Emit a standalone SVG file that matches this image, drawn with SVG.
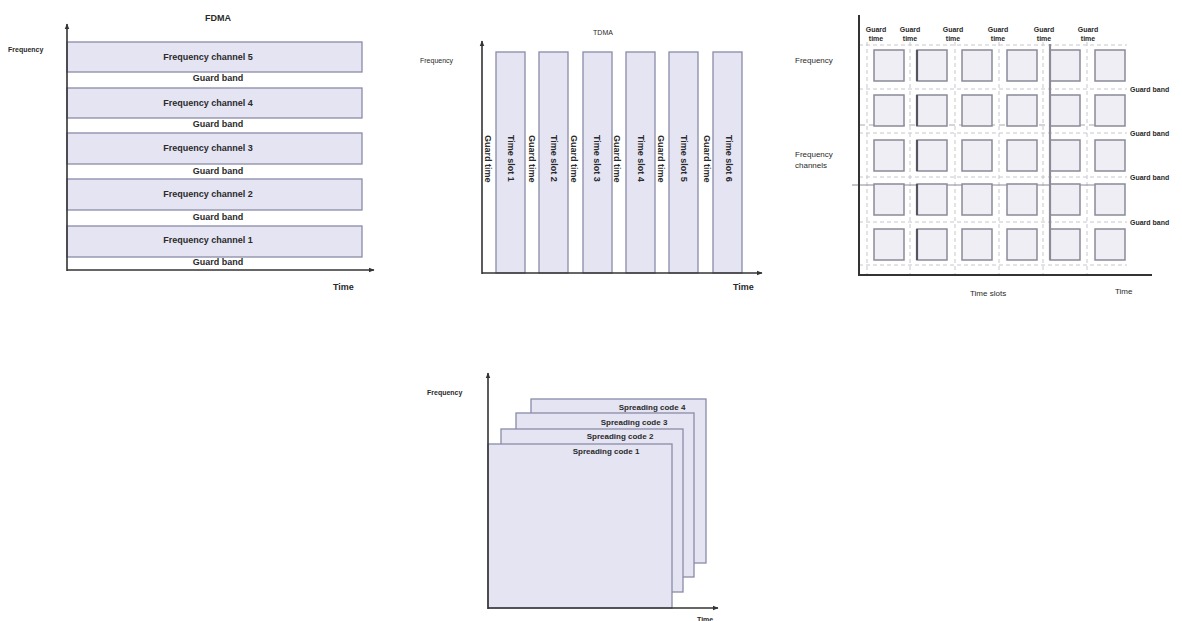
<svg xmlns="http://www.w3.org/2000/svg" width="1182" height="621" viewBox="0 0 1182 621">
<defs>
<marker id="ah" viewBox="0 0 10 10" refX="9" refY="5" markerWidth="6" markerHeight="6" orient="auto" markerUnits="userSpaceOnUse"><path d="M0,1 L10,5 L0,9 z" fill="#333"/></marker>
<style>
text{font-family:"Liberation Sans",Arial,sans-serif;fill:#2a2a2a}
.b{font-weight:bold}
.ax{stroke:#333;stroke-width:1.6;fill:none}
.ch{fill:#e4e4f2;stroke:#8a8aa8;stroke-width:1.3}
.box{fill:#eeeef4;stroke:#8a8a98;stroke-width:1.5}
.dash{stroke:#c6c6d0;stroke-width:1;stroke-dasharray:4 3;fill:none}
.t9{font-size:9px}
.t8{font-size:8px}
.t7{font-size:7px}
</style>
</defs>
<rect width="1182" height="621" fill="#ffffff"/>

<!-- FDMA -->
<g id="fdma">
<text x="218" y="21" class="b t9" text-anchor="middle">FDMA</text>
<text x="8" y="52" class="b t7">Frequency</text>
<rect class="ch" x="67" y="42" width="295" height="30"/>
<rect class="ch" x="67" y="88" width="295" height="30"/>
<rect class="ch" x="67" y="133" width="295" height="31"/>
<rect class="ch" x="67" y="179" width="295" height="31"/>
<rect class="ch" x="67" y="226" width="295" height="31"/>
<g class="b t9" text-anchor="middle">
<text x="208" y="60">Frequency channel 5</text>
<text x="208" y="106">Frequency channel 4</text>
<text x="208" y="151">Frequency channel 3</text>
<text x="208" y="197">Frequency channel 2</text>
<text x="208" y="243">Frequency channel 1</text>
<text x="218" y="81">Guard band</text>
<text x="218" y="127">Guard band</text>
<text x="218" y="174">Guard band</text>
<text x="218" y="220">Guard band</text>
<text x="218" y="265">Guard band</text>
</g>
<text x="333" y="290" class="b t9">Time</text>
</g>

<!-- TDMA -->
<g id="tdma">
<text x="603" y="35" class="t7" text-anchor="middle" fill="#555">TDMA</text>
<text x="420" y="63" class="t7" fill="#555">Frequency</text>
<rect class="ch" x="496" y="52" width="29" height="221"/>
<rect class="ch" x="539" y="52" width="29" height="221"/>
<rect class="ch" x="583" y="52" width="29" height="221"/>
<rect class="ch" x="626" y="52" width="29" height="221"/>
<rect class="ch" x="669" y="52" width="29" height="221"/>
<rect class="ch" x="713" y="52" width="29" height="221"/>
<g class="b t9">
<text transform="translate(485,135) rotate(90)">Guard time</text>
<text transform="translate(508,135) rotate(90)">Time slot 1</text>
<text transform="translate(529,135) rotate(90)">Guard time</text>
<text transform="translate(551,135) rotate(90)">Time slot 2</text>
<text transform="translate(571,135) rotate(90)">Guard time</text>
<text transform="translate(594,135) rotate(90)">Time slot 3</text>
<text transform="translate(614,135) rotate(90)">Guard time</text>
<text transform="translate(638,135) rotate(90)">Time slot 4</text>
<text transform="translate(658,135) rotate(90)">Guard time</text>
<text transform="translate(681,135) rotate(90)">Time slot 5</text>
<text transform="translate(704,135) rotate(90)">Guard time</text>
<text transform="translate(726,135) rotate(90)">Time slot 6</text>
</g>
<text x="733" y="290" class="b t9">Time</text>
</g>

<!-- FDMA/TDMA grid -->
<g id="grid">
<g class="dash">
<line x1="859" y1="89" x2="1127" y2="89"/>
<line x1="859" y1="133" x2="1127" y2="133"/>
<line x1="859" y1="177" x2="1127" y2="177"/>
<line x1="859" y1="222" x2="1127" y2="222"/>
<line x1="859" y1="265" x2="1127" y2="265"/>
<line x1="859" y1="45" x2="1127" y2="45"/>
<line x1="867" y1="42" x2="867" y2="275"/>
<line x1="910" y1="42" x2="910" y2="275"/>
<line x1="955" y1="42" x2="955" y2="275"/>
<line x1="999" y1="42" x2="999" y2="275"/>
<line x1="1043" y1="42" x2="1043" y2="275"/>
<line x1="1087" y1="42" x2="1087" y2="275"/>
</g>
<line x1="859" y1="125" x2="1127" y2="125" stroke="#a8a8b4" stroke-width="1" stroke-dasharray="6 4"/>
<line x1="852" y1="185" x2="1125" y2="185" stroke="#8a8a98" stroke-width="1"/>
<g>
<rect class="box" x="874" y="50" width="30" height="31"/><rect class="box" x="917" y="50" width="30" height="31"/><rect class="box" x="962" y="50" width="30" height="31"/><rect class="box" x="1007" y="50" width="30" height="31"/><rect class="box" x="1050" y="50" width="30" height="31"/><rect class="box" x="1095" y="50" width="30" height="31"/>
<rect class="box" x="874" y="95" width="30" height="31"/><rect class="box" x="917" y="95" width="30" height="31"/><rect class="box" x="962" y="95" width="30" height="31"/><rect class="box" x="1007" y="95" width="30" height="31"/><rect class="box" x="1050" y="95" width="30" height="31"/><rect class="box" x="1095" y="95" width="30" height="31"/>
<rect class="box" x="874" y="140" width="30" height="31"/><rect class="box" x="917" y="140" width="30" height="31"/><rect class="box" x="962" y="140" width="30" height="31"/><rect class="box" x="1007" y="140" width="30" height="31"/><rect class="box" x="1050" y="140" width="30" height="31"/><rect class="box" x="1095" y="140" width="30" height="31"/>
<rect class="box" x="874" y="184" width="30" height="31"/><rect class="box" x="917" y="184" width="30" height="31"/><rect class="box" x="962" y="184" width="30" height="31"/><rect class="box" x="1007" y="184" width="30" height="31"/><rect class="box" x="1050" y="184" width="30" height="31"/><rect class="box" x="1095" y="184" width="30" height="31"/>
<rect class="box" x="874" y="229" width="30" height="31"/><rect class="box" x="917" y="229" width="30" height="31"/><rect class="box" x="962" y="229" width="30" height="31"/><rect class="box" x="1007" y="229" width="30" height="31"/><rect class="box" x="1050" y="229" width="30" height="31"/><rect class="box" x="1095" y="229" width="30" height="31"/>
</g>
<g stroke="#55555f" stroke-width="2.2">
<line x1="917" y1="50" x2="917" y2="81"/><line x1="917" y1="95" x2="917" y2="126"/><line x1="917" y1="140" x2="917" y2="171"/><line x1="917" y1="184" x2="917" y2="215"/><line x1="917" y1="229" x2="917" y2="260"/>
<line x1="1050" y1="44" x2="1050" y2="260" stroke="#8a8a98"/>
</g>
<line x1="859" y1="15" x2="859" y2="276" stroke="#333" stroke-width="2"/>
<line x1="858" y1="275" x2="1152" y2="275" stroke="#333" stroke-width="2"/>
<g class="b t7" text-anchor="middle">
<text x="876" y="32">Guard</text><text x="876" y="41">time</text>
<text x="910" y="32">Guard</text><text x="910" y="41">time</text>
<text x="953" y="32">Guard</text><text x="953" y="41">time</text>
<text x="998" y="32">Guard</text><text x="998" y="41">time</text>
<text x="1044" y="32">Guard</text><text x="1044" y="41">time</text>
<text x="1088" y="32">Guard</text><text x="1088" y="41">time</text>
</g>
<g class="b t7">
<text x="1130" y="92">Guard band</text>
<text x="1130" y="136">Guard band</text>
<text x="1130" y="180">Guard band</text>
<text x="1130" y="225">Guard band</text>
</g>
<text x="795" y="63" class="t8">Frequency</text>
<text x="795" y="157" class="t8">Frequency</text>
<text x="795" y="168" class="t8">channels</text>
<text x="970" y="296" class="t8">Time slots</text>
<text x="1115" y="294" class="t8">Time</text>
</g>

<!-- CDMA -->
<g id="cdma">
<rect class="ch" x="531" y="399" width="175" height="164"/>
<rect class="ch" x="516" y="413" width="178" height="164"/>
<rect class="ch" x="501" y="429" width="182" height="163"/>
<rect class="ch" x="488" y="444" width="184" height="164"/>
<g class="b t8" text-anchor="middle">
<text x="652" y="410">Spreading code 4</text>
<text x="634" y="425">Spreading code 3</text>
<text x="620" y="439">Spreading code 2</text>
<text x="606" y="454">Spreading code 1</text>
</g>
<text x="427" y="395" class="b t7">Frequency</text>
<text x="697" y="622" class="b t7">Time</text>
</g>

<!-- axes / connectors -->
<g id="axes">
<line class="ax" x1="67" y1="271" x2="67" y2="24" marker-end="url(#ah)"/>
<line class="ax" x1="67" y1="270" x2="374" y2="270" marker-end="url(#ah)"/>
<line class="ax" x1="482" y1="274" x2="482" y2="41" marker-end="url(#ah)"/>
<line class="ax" x1="482" y1="273" x2="762" y2="273" marker-end="url(#ah)"/>
<line class="ax" x1="488" y1="609" x2="488" y2="373" marker-end="url(#ah)"/>
<line class="ax" x1="488" y1="608" x2="718" y2="608" marker-end="url(#ah)"/>
</g>
</svg>
